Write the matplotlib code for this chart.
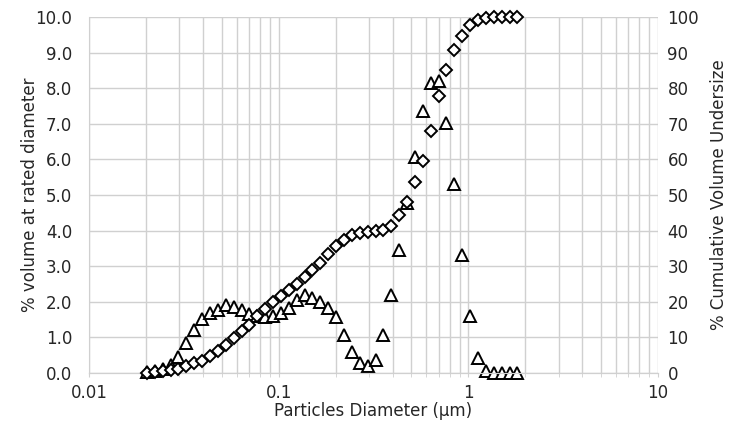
import matplotlib.pyplot as plt
from matplotlib.ticker import FixedLocator, LogLocator, NullFormatter

plt.rcParams['font.family'] = ['DejaVu Sans']

# Particle diameters (um), one per measurement bin
diameter = [0.0202, 0.02223, 0.02446, 0.02692, 0.02962, 0.03260, 0.03588, 0.03949,
            0.04345, 0.04782, 0.05262, 0.05791, 0.06373, 0.07013, 0.07718, 0.08494,
            0.09347, 0.1029, 0.1132, 0.1246, 0.1371, 0.1509, 0.1661, 0.1827,
            0.2011, 0.2213, 0.2435, 0.2680, 0.2949, 0.3245, 0.3571, 0.3930,
            0.4325, 0.4760, 0.5238, 0.5764, 0.6343, 0.6980, 0.7682, 0.8454,
            0.9303, 1.0238, 1.1267, 1.2399, 1.3645, 1.5016, 1.6525, 1.8185]

# % volume at rated diameter (left axis)
volume = [0.02, 0.05, 0.12, 0.22, 0.45, 0.85, 1.22, 1.52,
          1.68, 1.76, 1.90, 1.86, 1.76, 1.66, 1.60, 1.57,
          1.60, 1.68, 1.82, 2.05, 2.18, 2.12, 2.00, 1.82,
          1.58, 1.07, 0.60, 0.27, 0.20, 0.37, 1.07, 2.19,
          3.45, 4.77, 6.08, 7.36, 8.15, 8.20, 7.03, 5.30,
          3.31, 1.60, 0.41, 0.06, 0.0, 0.0, 0.0, 0.0]

# % cumulative volume undersize (right axis)
cumulative = [0.1, 0.3, 0.5, 0.8, 1.1, 1.9, 2.7, 3.5,
              4.7, 6.1, 7.9, 9.9, 11.8, 13.6, 15.9, 17.9,
              19.8, 21.6, 23.4, 25.0, 26.9, 28.9, 30.9, 33.4,
              35.8, 37.3, 38.7, 39.3, 39.6, 39.8, 40.3, 41.4,
              44.3, 48.0, 53.7, 59.5, 68.1, 77.9, 85.2, 90.6,
              94.8, 97.7, 99.1, 99.6, 99.9, 100.0, 100.0, 100.0]

x_ticks = [0.01, 0.1, 1, 10]
x_tick_labels = ['0.01', '0.1', '1', '10']
left_ticks = [0, 1, 2, 3, 4, 5, 6, 7, 8, 9, 10]
right_ticks = [0, 10, 20, 30, 40, 50, 60, 70, 80, 90, 100]

text_color = '#262626'
grid_color = '#d0d0d0'
fs = 12

fig = plt.figure(figsize=(7.32, 4.34), dpi=100)
ax = fig.add_axes([0.1216, 0.1406, 0.777, 0.8202])
ax2 = ax.twinx()

ax.set_xscale('log')
ax.set_xlim(0.01, 10)
ax.set_ylim(0, 10)
ax2.set_ylim(0, 100)

ax.xaxis.set_major_locator(FixedLocator(x_ticks))
ax.set_xticklabels(x_tick_labels)
ax.xaxis.set_minor_locator(LogLocator(base=10, subs=range(2, 10)))
ax.xaxis.set_minor_formatter(NullFormatter())
ax.set_yticks(left_ticks)
ax.set_yticklabels([f'{v:.1f}' for v in left_ticks])
ax2.set_yticks(right_ticks)
ax2.set_yticklabels([str(v) for v in right_ticks])

ax.grid(True, which='both', axis='x', color=grid_color, linewidth=1.0)
ax.grid(True, which='major', axis='y', color=grid_color, linewidth=1.0)
ax.set_axisbelow(True)

for a in (ax, ax2):
    for side in ('top', 'right', 'left'):
        a.spines[side].set_visible(False)
    a.spines['bottom'].set_color(grid_color)
ax.spines['left'].set_visible(True)
ax.spines['left'].set_color(grid_color)

ax.tick_params(axis='x', which='major', length=3, color=grid_color, pad=5,
               labelsize=fs, labelcolor=text_color)
ax.tick_params(axis='x', which='minor', length=3, color=grid_color)
ax.tick_params(axis='y', length=0, pad=12, labelsize=fs, labelcolor=text_color)
ax2.tick_params(axis='y', length=0, pad=7, labelsize=fs, labelcolor=text_color)

ax.plot(diameter, volume, linestyle='none', marker='^', markersize=8,
        markerfacecolor='white', markeredgecolor='black', markeredgewidth=1.4,
        clip_on=False, zorder=3)
ax2.plot(diameter, cumulative, linestyle='none', marker='D', markersize=6.5,
         markerfacecolor='white', markeredgecolor='black', markeredgewidth=1.4,
         clip_on=False, zorder=4)

ax.set_xlabel('Particles Diameter (\u00b5m)', fontsize=fs, color=text_color)
ax.set_ylabel('% volume at rated diameter', fontsize=fs, color=text_color)
ax2.set_ylabel('% Cumulative Volume Undersize', fontsize=fs, color=text_color)
ax.xaxis.set_label_coords(0.5, -0.082)
ax.yaxis.set_label_coords(-0.088, 0.5)
ax2.yaxis.set_label_coords(1.091, 0.5)

fig.savefig('out.png', dpi=100, facecolor='white')
